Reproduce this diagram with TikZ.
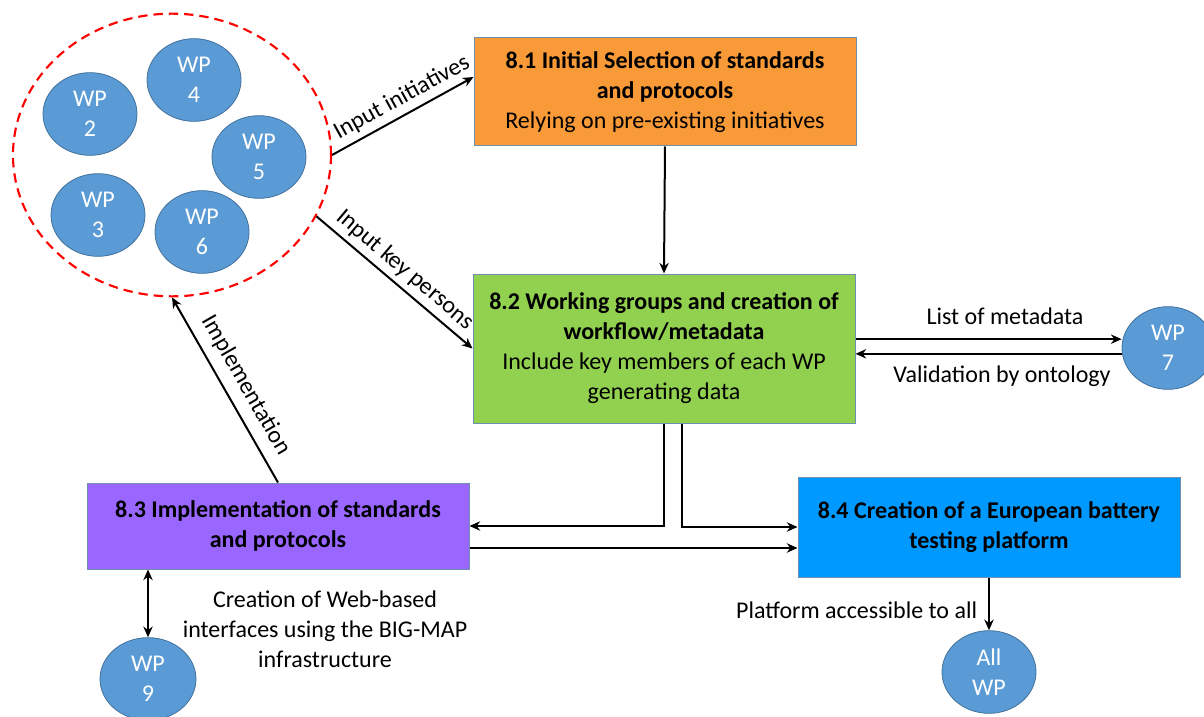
\documentclass[tikz,border=0pt]{standalone}
\usepackage{fontspec}
\setmainfont{Carlito}
\usetikzlibrary{arrows.meta,shapes.geometric,calc}
\definecolor{wpblue}{HTML}{5B9BD5}
\definecolor{wpedge}{HTML}{41719C}
\definecolor{orng}{HTML}{F99A38}
\definecolor{grn}{HTML}{92D050}
\definecolor{prpl}{HTML}{9966FF}
\definecolor{sky}{HTML}{0099FF}
\definecolor{boxedge}{HTML}{6F8FAF}
\begin{document}
\begin{tikzpicture}[x=0.75pt,y=-0.75pt,
  font=\fontsize{18pt}{22.5pt}\selectfont,
  wp/.style={ellipse,fill=wpblue,draw=wpedge,line width=0.6pt,text=white,align=center,
    minimum width=70.5pt,minimum height=62pt,inner sep=0pt},
  task/.style={rectangle,draw=boxedge,line width=0.75pt,align=center,minimum width=286.5pt,inner sep=0pt},
  arr/.style={line width=1.5pt,-{Stealth[length=8pt,width=7pt]}},
  dblarr/.style={line width=1.5pt,{Stealth[length=8pt,width=7pt]}-{Stealth[length=8pt,width=7pt]}},
  lbl/.style={inner sep=2pt},
  slbl/.style={inner sep=4pt}]
\useasboundingbox (0,0) rectangle (1204,717);

% group of WPs
\node[ellipse,draw=red,dash pattern=on 7pt off 4.5pt,line width=1.6pt,
  minimum width=238.5pt,minimum height=212pt,inner sep=0pt] (grp) at (172,155) {};
\node[wp] (wp2) at (90,114) {WP\\2};
\node[wp] (wp4) at (194,80) {WP\\4};
\node[wp] (wp5) at (259,157) {WP\\5};
\node[wp] (wp3) at (98,215) {WP\\3};
\node[wp] (wp6) at (202,232) {WP\\6};

% task boxes
\node[task,fill=orng,minimum height=81pt] (b1) at (665,92)
  {\textbf{8.1 Initial Selection of standards}\\\textbf{and protocols}\\Relying on pre-existing initiatives};
\node[task,fill=grn,minimum height=111.75pt] (b2) at (664,348.5)
  {\textbf{8.2 Working groups and creation of}\\\textbf{workflow/metadata}\\Include key members of each WP\\generating data};
\node[task,fill=prpl,minimum height=64.5pt] (b3) at (278,526)
  {\textbf{8.3 Implementation of standards}\\\textbf{and protocols}};
\node[task,fill=sky,minimum height=75pt] (b4) at (989,527)
  {\textbf{8.4 Creation of a European battery}\\\textbf{testing platform}};

% other WPs
\node[wp,minimum width=69pt] (wp7) at (1168,348) {WP\\7};
\node[wp,minimum width=72pt] (wp9) at (148,679) {WP\\9};
\node[wp] (allwp) at (989,672) {All\\WP};

% connectors
\draw[arr] (grp.east) -- node[slbl,pos=0.55,above,sloped] {Input initiatives} ([yshift=11.25pt]b1.west);
\draw[arr] (grp.-23) -- node[slbl,pos=0.5,above,sloped] {Input key persons} (b2.west);
\draw[arr] (b1.south) -- (b2.north);
\draw[arr] (b3.north) -- node[inner sep=7pt,pos=0.47,above,sloped] {Implementation} (grp.south);
\draw[arr] ([yshift=7pt]b2.east) -- ([yshift=7pt]b2.east -| wp7.west);
\draw[arr] ([yshift=-4pt]b2.east -| wp7.west) -- ([yshift=-4pt]b2.east);
\draw[arr] (b2.south) |- (b3.east);
\draw[arr] ([xshift=13.5pt]b2.south) |- (b4.west);
\draw[arr] ([yshift=-16.5pt]b3.east) -- ([yshift=-16.5pt]b3.east -| b4.west);
\draw[dblarr] (wp9.north) -- (wp9.north |- b3.south);
\draw[arr] (b4.south) -- (allwp.north);

% free labels
\node[lbl] (l7a) at (1005,316) {List of metadata};
\node[lbl] (l7b) at (1002,376) {Validation by ontology};
\node[lbl,align=center] (lweb) at (325,629) {Creation of Web-based\\interfaces using the BIG-MAP\\infrastructure};
\node[lbl,anchor=east] (lplat) at (980,610) {Platform accessible to all};
\end{tikzpicture}
\end{document}
